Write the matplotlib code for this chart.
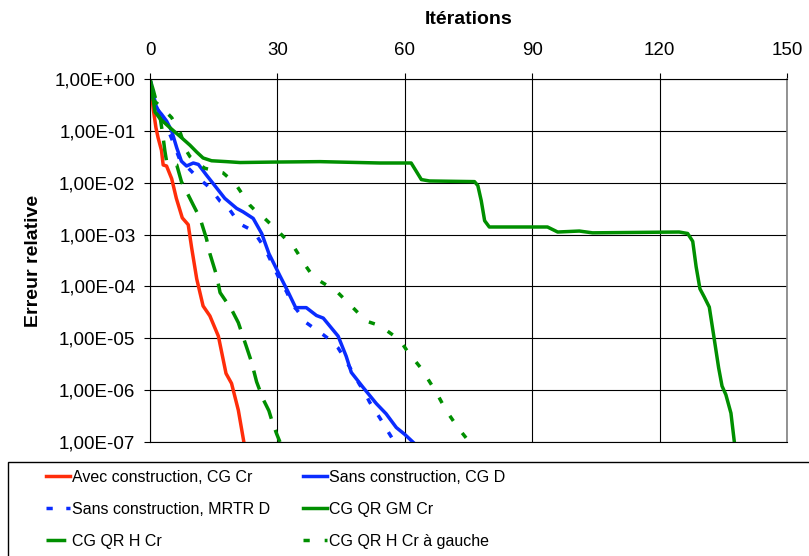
import matplotlib
matplotlib.use("Agg")
import matplotlib.pyplot as plt
from matplotlib.patches import Rectangle
from matplotlib.ticker import FixedLocator, FixedFormatter, NullLocator

plt.rcParams.update({
    'font.family': ['Liberation Sans', 'DejaVu Sans'],
    'font.size': 13.5,
})

# Avec construction, CG Cr
x_avec = [0, 0.8, 1.4, 1.9, 2.7, 3.1, 3.9, 5.1, 6.2, 7.6, 9.0, 9.8, 11.0, 12.5, 14.1, 16.1, 17.9, 19.2, 20.8, 22.1]
y_avec = [1.0, 2.5e-1, 1.15e-1, 7.4e-2, 4.2e-2, 2.2e-2, 2.1e-2, 1.2e-2, 5.0e-3, 2.1e-3, 1.55e-3, 5.6e-4,
          1.4e-4, 4.2e-5, 2.7e-5, 1.1e-5, 2.1e-6, 1.35e-6, 4.1e-7, 1.0e-7]

# Sans construction, CG D
x_sans_cg = [0, 0.6, 1.2, 2.0, 2.7, 3.9, 5.1, 6.3, 7.4, 8.6, 10.2, 11.4, 13.3, 15.7, 17.6, 20.4, 21.9, 24.3,
             26.3, 28.0, 30.6, 32.5, 34.3, 36.8, 39.2, 40.8, 44.3, 46.2, 47.4, 50.1, 53.3, 55.6, 58.0, 60.0, 61.9]
y_sans_cg = [1.0, 4.5e-1, 3.3e-1, 2.45e-1, 2.1e-1, 1.55e-1, 1.0e-1, 4.7e-2, 2.6e-2, 2.1e-2, 2.4e-2, 2.25e-2,
             1.4e-2, 7.9e-3, 5.0e-3, 3.2e-3, 2.75e-3, 2.05e-3, 1.05e-3, 4.3e-4, 1.6e-4, 7.9e-5, 3.9e-5, 3.9e-5,
             2.75e-5, 2.45e-5, 1.1e-5, 4.5e-6, 2.2e-6, 1.15e-6, 5.5e-7, 3.5e-7, 1.9e-7, 1.4e-7, 1.0e-7]

# Sans construction, MRTR D
x_mrtr = [0, 1.5, 3.0, 4.7, 5.5, 7.0, 9.8, 11.0, 13.3, 14.5, 16.5, 18.0, 20.2, 21.2, 24.1, 25.1, 27.0, 29.0,
          31.3, 32.1, 33.7, 34.5, 36.8, 38.0, 40.8, 41.9, 44.3, 45.1, 47.0, 49.4, 50.1, 51.7, 52.5, 54.5, 55.3,
          57.2, 57.8]
y_mrtr = [1.0, 2.8e-1, 1.6e-1, 8.5e-2, 5.9e-2, 2.8e-2, 1.65e-2, 1.3e-2, 9.1e-3, 7.2e-3, 4.4e-3, 3.7e-3,
          2.05e-3, 1.6e-3, 1.2e-3, 9.5e-4, 5.5e-4, 2.5e-4, 1.0e-4, 8.1e-5, 4.2e-5, 3.6e-5, 2.0e-5, 1.7e-5,
          1.17e-5, 1.0e-5, 6.5e-6, 5.1e-6, 2.8e-6, 1.26e-6, 1.07e-6, 5.9e-7, 4.7e-7, 2.6e-7, 2.0e-7, 1.12e-7, 1.0e-7]

# CG QR GM Cr
x_gm = [0, 1.2, 2.4, 4.7, 7.1, 9.4, 11.0, 12.5, 14.5, 18.0, 21.2, 29.0, 40.0, 54.1, 61.5, 63.9, 65.8, 76.4,
        77.2, 78.0, 78.8, 79.9, 85.4, 93.6, 96.0, 101.1, 104.2, 124.6, 126.6, 127.8, 128.6, 129.5, 130.5,
        131.7, 132.8, 133.9, 134.7, 135.6, 136.8, 137.6]
y_gm = [1.0, 2.3e-1, 1.7e-1, 1.15e-1, 7.8e-2, 5.3e-2, 3.9e-2, 3.0e-2, 2.65e-2, 2.55e-2, 2.45e-2, 2.5e-2,
        2.55e-2, 2.4e-2, 2.4e-2, 1.15e-2, 1.08e-2, 1.05e-2, 8.8e-3, 4.5e-3, 1.85e-3, 1.4e-3, 1.4e-3, 1.4e-3,
        1.12e-3, 1.17e-3, 1.08e-3, 1.12e-3, 1.05e-3, 7.4e-4, 2.4e-4, 9.0e-5, 6.3e-5, 4.0e-5, 1.05e-5, 2.7e-6,
        1.2e-6, 8.2e-7, 3.6e-7, 1.0e-7]

# CG QR H Cr
x_h = [0, 0.8, 1.4, 2.4, 3.1, 3.5, 3.9, 6.3, 7.4, 9.4, 10.2, 11.8, 13.3, 14.1, 15.7, 16.5, 19.2, 20.8, 22.7,
       23.9, 25.1, 26.6, 28.0, 28.6, 29.8, 30.6]
y_h = [1.0, 6.0e-1, 3.9e-1, 1.8e-1, 7.4e-2, 4.1e-2, 2.6e-2, 2.2e-2, 1.05e-2, 5.0e-3, 3.7e-3, 2.05e-3, 8.3e-4,
       4.3e-4, 1.6e-4, 7.6e-5, 3.6e-5, 2.0e-5, 6.9e-6, 3.5e-6, 1.45e-6, 6.8e-7, 4.0e-7, 2.75e-7, 1.45e-7, 1.0e-7]

# CG QR H Cr à gauche
x_hg = [0, 0.8, 2.0, 4.3, 5.1, 7.1, 8.6, 9.4, 11.8, 12.9, 17.2, 20.0, 23.5, 25.9, 27.0, 30.6, 34.1, 36.8,
        38.8, 39.8, 43.9, 47.4, 50.9, 53.7, 54.8, 58.8, 60.7, 63.9, 67.4, 69.7, 72.5, 75.2]
y_hg = [1.0, 3.9e-1, 3.2e-1, 2.1e-1, 1.8e-1, 9.3e-2, 4.1e-2, 3.2e-2, 2.2e-2, 1.9e-2, 1.55e-2, 9.8e-3, 3.7e-3,
        2.35e-3, 2.05e-3, 1.07e-3, 5.4e-4, 2.4e-4, 1.4e-4, 1.3e-4, 8.1e-5, 4.2e-5, 2.15e-5, 1.8e-5, 1.6e-5,
        9.3e-6, 5.5e-6, 2.6e-6, 9.1e-7, 4.1e-7, 1.9e-7, 1.0e-7]

x_ticks = [0, 30, 60, 90, 120, 150]
y_ticks = [1e0, 1e-1, 1e-2, 1e-3, 1e-4, 1e-5, 1e-6, 1e-7]
y_ticklabels = ['1,00E+00', '1,00E-01', '1,00E-02', '1,00E-03', '1,00E-04', '1,00E-05', '1,00E-06', '1,00E-07']

red = '#ff2d0a'
blue = '#0a2cff'
green = '#008f00'
lw = 2.5

fig = plt.figure(figsize=(8.09, 5.56), dpi=100)
ax = fig.add_axes([150/809, 1-442/556, 637/809, 363/556])

l_avec, = ax.plot(x_avec, y_avec, color=red, lw=lw, label='Avec construction, CG Cr')
l_mrtr, = ax.plot(x_mrtr, y_mrtr, color=blue, lw=lw, dashes=(1.8, 3.9), label='Sans construction, MRTR D')
l_h, = ax.plot(x_h, y_h, color=green, lw=lw, dashes=(5.7, 3.4), label='CG QR H Cr')
l_sans, = ax.plot(x_sans_cg, y_sans_cg, color=blue, lw=lw, label='Sans construction, CG D')
l_gm, = ax.plot(x_gm, y_gm, color=green, lw=lw, label='CG QR GM Cr')
l_hg, = ax.plot(x_hg, y_hg, color=green, lw=lw, dashes=(1.8, 4.3), label='CG QR H Cr à gauche')

ax.set_yscale('log')
ax.set_xlim(0, 150)
ax.set_ylim(1e-7, 1e0)
ax.xaxis.set_major_locator(FixedLocator(x_ticks))
ax.yaxis.set_major_locator(FixedLocator(y_ticks))
ax.yaxis.set_major_formatter(FixedFormatter(y_ticklabels))
ax.yaxis.set_minor_locator(NullLocator())
ax.xaxis.tick_top()
ax.xaxis.set_label_position('top')
ax.tick_params(axis='x', direction='out', length=4.5, width=0.8, pad=10, labelsize=13.5)
ax.tick_params(axis='y', direction='out', length=4.5, width=0.8, pad=6, labelsize=13.5)
ax.grid(True, color='black', lw=0.8)
ax.set_axisbelow(True)
for s in ['left', 'top', 'bottom']:
    ax.spines[s].set_color('black')
    ax.spines[s].set_linewidth(0.8)
ax.spines['right'].set_color('#808080')
ax.spines['right'].set_linewidth(1.2)

ax.set_xlabel('Itérations', fontweight='bold', fontsize=14, labelpad=13)
ax.set_ylabel('Erreur relative', fontweight='bold', fontsize=14, labelpad=9)

# legend box, runs off the right and bottom edges
fig.patches.append(Rectangle((8/809, -0.1), 1.0, (556-462)/556 + 0.1, transform=fig.transFigure,
                             fill=False, edgecolor='black', lw=1.0))
fig.legend(handles=[l_avec, l_mrtr, l_h, l_sans, l_gm, l_hg], ncol=2, loc='upper left',
           bbox_to_anchor=(46/809, 1-470/556), frameon=False, borderpad=0, borderaxespad=0,
           prop={'size': 11.5},
           handlelength=1.5, handletextpad=0.1, columnspacing=2.1, labelspacing=1.05)

fig.savefig('out.png', dpi=100)
